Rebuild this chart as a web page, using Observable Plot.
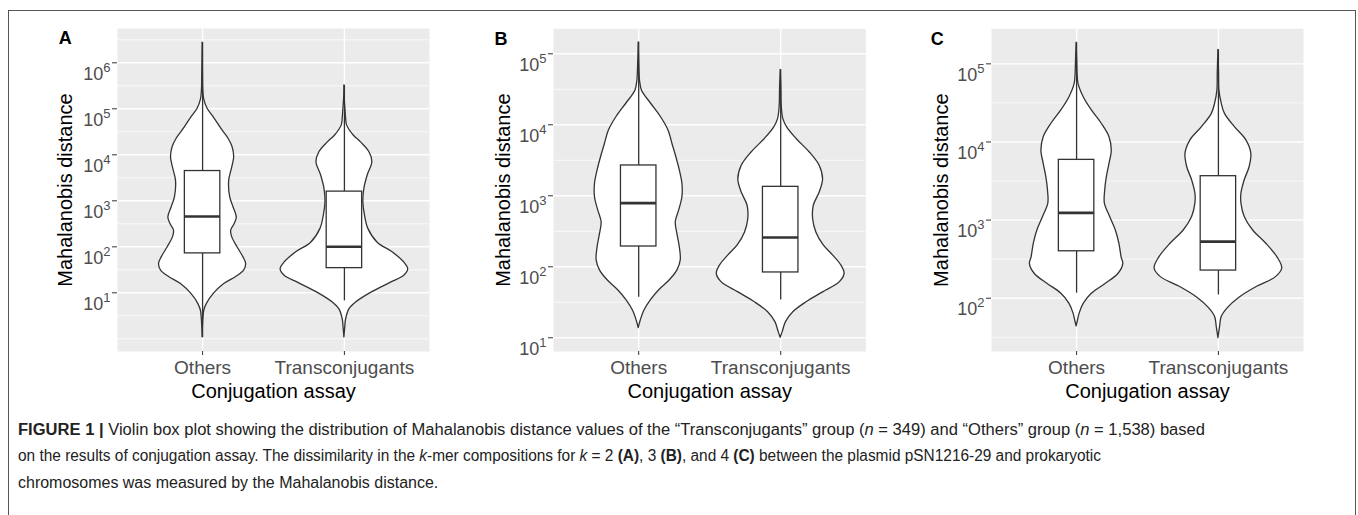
<!DOCTYPE html>
<html><head><meta charset="utf-8">
<script src="https://cdn.jsdelivr.net/npm/d3@7"></script>
<script src="https://cdn.jsdelivr.net/npm/@observablehq/plot@0.6"></script>
<style>
body{margin:0;background:#fff;font-family:"Liberation Sans",Arial,sans-serif;}
#wrap{position:relative;width:1358px;height:515px;overflow:hidden;background:#fff;}
#border{position:absolute;left:8px;top:10px;width:1346px;height:600px;border:1px solid #555;z-index:10;pointer-events:none;}
.panel{position:absolute;top:0;}
.cap{position:absolute;left:18px;white-space:nowrap;font-size:16px;line-height:16px;color:#222;transform-origin:0 0;}
</style></head><body><div id="wrap"><div id="border"></div></div>
<script>
// ---------- DATA ----------
const groups = ["Others", "Transconjugants"];
const panelLetters = ["A", "B", "C"];
const yTitle = "Mahalanobis distance";
const xTitle = "Conjugation assay";

// y-axis limits (Mahalanobis distance) per panel
const yLimitsA = [0.53, 5.57e6];
const yLimitsB = [6.41, 2.25e5];
const yLimitsC = [20.8, 2.81e5];
// labelled (major) breaks as powers of ten, and minor breaks
const majorExpA = [1, 2, 3, 4, 5, 6];
const minorExpA = [0, 0.5, 1.5, 2.5, 3.5, 4.5, 5.5, 6.5];
const majorExpB = [1, 2, 3, 4, 5];
const minorExpB = [1.5, 2.5, 3.5, 4.5];
const majorExpC = [2, 3, 4, 5];
const minorExpC = [1.5, 2.5, 3.5, 4.5];

// violin profiles: [log10(distance), relative density]
const violinA_Others = [[6.44,0],[5.8,1],[5.4,2],[5.2,5],[5.0,15],[4.8,35],[4.53,60],[4.35,78],[4.17,90],[3.95,95],[3.66,87],[3.44,80],[3.08,83],[2.86,93],[2.64,103],[2.50,97],[2.35,86],[2.21,89],[1.99,105],[1.77,123],[1.63,131],[1.48,125],[1.34,100],[1.19,65],[0.97,33],[0.76,13],[0.61,5],[0.4,2],[0.03,0]];
const violinA_Trans = [[5.51,0],[5.2,1],[5.0,3],[4.8,5],[4.64,8],[4.42,28],[4.27,50],[4.06,75],[3.84,84],[3.55,70],[3.26,60],[2.97,57],[2.68,62],[2.39,72],[2.09,100],[1.88,145],[1.66,180],[1.51,192],[1.37,180],[1.22,140],[1.0,80],[0.79,35],[0.64,15],[0.42,5],[0.2,2],[0.03,0]];
const violinB_Others = [[5.16,0],[4.8,2],[4.62,4],[4.48,10],[4.30,37],[4.11,67],[3.92,90],[3.73,102],[3.54,114],[3.36,124],[3.17,132],[2.98,132],[2.79,122],[2.63,112],[2.46,117],[2.28,124],[2.09,127],[1.95,117],[1.81,94],[1.67,62],[1.53,37],[1.38,17],[1.24,6],[1.135,0]];
const violinB_Trans = [[4.775,0],[4.5,2],[4.27,3],[4.08,8],[3.96,20],[3.80,48],[3.61,88],[3.42,118],[3.23,128],[3.05,118],[2.86,100],[2.67,98],[2.48,108],[2.30,130],[2.16,158],[2.02,183],[1.90,193],[1.78,178],[1.64,128],[1.50,78],[1.36,38],[1.22,16],[1.08,6],[1.0,0]];
const violinC_Others = [[5.27,0],[5.0,2],[4.87,3],[4.74,6],[4.57,22],[4.40,47],[4.23,77],[4.06,100],[3.89,107],[3.72,100],[3.55,92],[3.38,87],[3.21,86],[3.04,102],[2.87,119],[2.70,130],[2.52,137],[2.44,142],[2.31,127],[2.18,87],[2.06,47],[1.93,22],[1.80,9],[1.71,4],[1.64,0]];
const violinC_Trans = [[5.18,0],[4.87,2],[4.66,3],[4.49,10],[4.36,20],[4.19,50],[4.02,85],[3.85,100],[3.68,95],[3.51,80],[3.34,70],[3.21,70],[3.04,80],[2.87,105],[2.70,145],[2.52,180],[2.38,194],[2.27,175],[2.14,115],[2.01,65],[1.88,30],[1.76,10],[1.63,5],[1.49,0]];

// box plot stats: [lower whisker, Q1, median, Q3, upper whisker] for Others, Transconjugants
const boxA = [[1.07, 72, 457, 4440, 2.75e6], [6.68, 34.4, 100, 1585, 3.24e5]];
const boxB = [[37.2, 193, 789, 2673, 1.45e5], [34.0, 83.2, 259, 1337, 5.96e4]];
const boxC = [[116, 399, 1236, 5902, 1.86e5], [110, 226, 531, 3648, 1.51e5]];

// ---------- DRAW ----------
function panel(o) {
  const mL = 110, mR = 30, H = 410;
  const maxD = d3.max([...o.violins[0], ...o.violins[1]], d => d[1]);
  const half = 0.45;
  const marks = [
    Plot.frame({fill: "#EBEBEB", stroke: "none"}),
    Plot.gridY({ticks: o.minors.map(e => 10 ** e), stroke: "#fff", strokeOpacity: 1, strokeWidth: 0.7}),
    Plot.gridY({ticks: o.majors.map(e => 10 ** e), stroke: "#fff", strokeOpacity: 1, strokeWidth: 1.4}),
    Plot.gridX({ticks: [1, 2], stroke: "#fff", strokeOpacity: 1, strokeWidth: 1.4})
  ];
  o.violins.forEach((v, i) => {
    const pos = i + 1;
    marks.push(Plot.areaX(v, {
      y: d => 10 ** d[0],
      x1: d => pos - half * d[1] / maxD,
      x2: d => pos + half * d[1] / maxD,
      fill: "white", stroke: "#333", strokeWidth: 1.3, curve: "catmull-rom"
    }));
  });
  const rows = o.boxes.map((b, i) => ({pos: i + 1, lo: b[0], q1: b[1], med: b[2], q3: b[3], hi: b[4]}));
  marks.push(
    Plot.ruleX(rows, {x: "pos", y1: "q3", y2: "hi", stroke: "#333", strokeWidth: 1.3}),
    Plot.ruleX(rows, {x: "pos", y1: "lo", y2: "q1", stroke: "#333", strokeWidth: 1.3}),
    Plot.rect(rows, {x1: d => d.pos - 0.125, x2: d => d.pos + 0.125, y1: "q1", y2: "q3", fill: "white", stroke: "#333", strokeWidth: 1.3}),
    Plot.ruleY(rows, {y: "med", x1: d => d.pos - 0.125, x2: d => d.pos + 0.125, stroke: "#333", strokeWidth: 2.6}),
    Plot.axisX({ticks: [1, 2], tickFormat: v => groups[v - 1], tickSize: 4, tickPadding: 5, fontSize: 19, label: null, stroke: "#333"}),
    Plot.axisY({ticks: o.majors.map(e => 10 ** e), tickFormat: v => "10^" + Math.round(Math.log10(v)), tickSize: 5, tickPadding: 2, fontSize: 18, label: null, stroke: "#333"}),
    Plot.text([yTitle], {text: d => d, frameAnchor: "left", textAnchor: "middle", dx: o.titleDx, rotate: -90, fontSize: 20, fill: "#000"}),
    Plot.text([xTitle], {text: d => d, frameAnchor: "bottom", textAnchor: "middle", lineAnchor: "top", dy: 32.5, fontSize: 20, fill: "#000"}),
    Plot.text([o.letter], {text: d => d, frameAnchor: "top-left", lineAnchor: "top", textAnchor: "start", dx: o.letterDx, dy: 3.2, fontSize: 18, fontWeight: "bold", fill: "#000"})
  );
  const svg = Plot.plot({
    width: mL + o.frameWidth + mR, height: H,
    marginLeft: mL, marginRight: mR, marginTop: o.frameTop, marginBottom: H - 351,
    x: {type: "linear", domain: [0.4, 2.6]},
    y: {type: "log", domain: o.limits},
    style: {background: "transparent", overflow: "visible", color: "#4D4D4D", fontFamily: "'Liberation Sans', Arial, sans-serif"},
    marks
  });
  svg.querySelectorAll('g[aria-label="y-axis tick label"] text').forEach(t => {
    const e = t.textContent.split("^")[1];
    t.textContent = "10";
    const ts = document.createElementNS("http://www.w3.org/2000/svg", "tspan");
    ts.setAttribute("dy", "-8");
    ts.setAttribute("font-size", "13");
    ts.textContent = e;
    t.appendChild(ts);
    t.setAttribute("dy", "11");
  });
  const div = document.createElement("div");
  div.className = "panel";
  div.style.left = (o.frameLeft - mL) + "px";
  div.appendChild(svg);
  document.getElementById("wrap").appendChild(div);
}

panel({letter: panelLetters[0], limits: yLimitsA, majors: majorExpA, minors: minorExpA, violins: [violinA_Others, violinA_Trans], boxes: boxA, frameLeft: 117, frameTop: 28, frameWidth: 312, titleDx: -51.7, letterDx: -58.7});
panel({letter: panelLetters[1], limits: yLimitsB, majors: majorExpB, minors: minorExpB, violins: [violinB_Others, violinB_Trans], boxes: boxB, frameLeft: 553.3, frameTop: 28.3, frameWidth: 312.4, titleDx: -49.7, letterDx: -59});
panel({letter: panelLetters[2], limits: yLimitsC, majors: majorExpC, minors: minorExpC, violins: [violinC_Others, violinC_Trans], boxes: boxC, frameLeft: 990.7, frameTop: 28.3, frameWidth: 312, titleDx: -50.4, letterDx: -60.7});

// ---------- CAPTION ----------
const captionLines = [
  '<b>FIGURE 1 |</b> Violin box plot showing the distribution of Mahalanobis distance values of the \u201cTransconjugants\u201d group (<i>n</i> = 349) and \u201cOthers\u201d group (<i>n</i> = 1,538) based',
  'on the results of conjugation assay. The dissimilarity in the <i>k</i>-mer compositions for <i>k</i> = 2 <b>(A)</b>, 3 <b>(B)</b>, and 4 <b>(C)</b> between the plasmid pSN1216-29 and prokaryotic',
  'chromosomes was measured by the Mahalanobis distance.'
];
const captionTops = [421.5, 448.2, 474.8];
const captionLineEnds = [1205, 1101]; // right ends of the two full lines
const capDivs = captionLines.map((html, i) => {
  const d = document.createElement("div");
  d.className = "cap";
  d.style.top = captionTops[i] + "px";
  d.innerHTML = html;
  document.getElementById("wrap").appendChild(d);
  return d;
});
const scales = captionLineEnds.map((e, i) => (e - 18) / capDivs[i].getBoundingClientRect().width);
const meanScale = d3.mean(scales);
capDivs.forEach((d, i) => { d.style.transform = "scaleX(" + (i < scales.length ? scales[i] : meanScale) + ")"; });
</script>
</body></html>
